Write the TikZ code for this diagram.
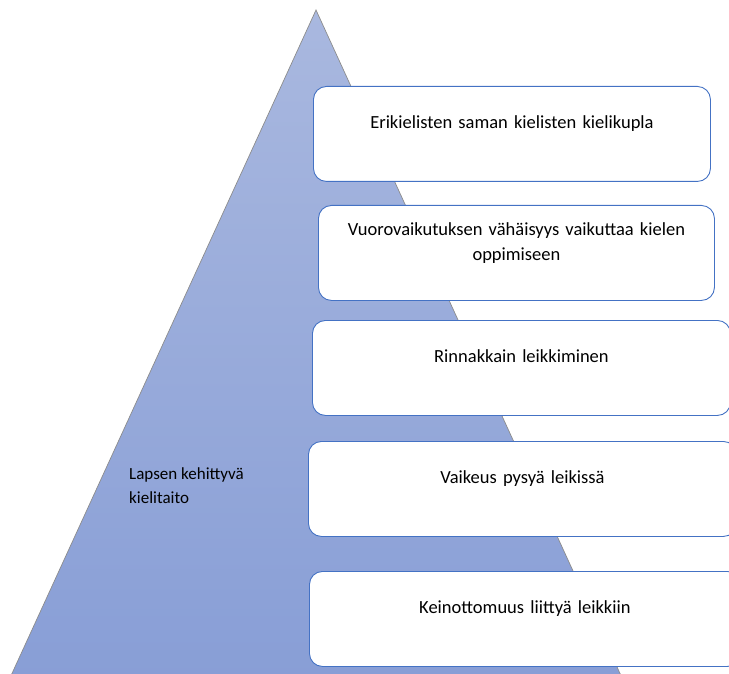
\documentclass[tikz,border=0pt]{standalone}
\usepackage{fontspec}
\setmainfont{Carlito}
\usetikzlibrary{positioning}

\definecolor{pyrtop}{HTML}{A9B8DF}
\definecolor{pyrbot}{HTML}{889ED6}
\definecolor{cardblue}{HTML}{4472C4}

\begin{document}
\begin{tikzpicture}[
  x=1pt, y=-1pt,
  font=\fontsize{18.5}{25}\selectfont,
  card/.style ={draw=cardblue, fill=white, line width=0.9pt,
                rounded corners=13pt, align=center, inner sep=0pt,
                anchor=north west, text height=42pt, text depth=53pt},
  card2/.style={card, text height=30pt, text depth=65pt},
  lbl/.style  ={align=left, inner sep=0pt, anchor=base west,
                font=\fontsize{17}{24}\selectfont},
]
\useasboundingbox (0,0) rectangle (729,674);
\clip (0,0) rectangle (729,674);

\shade[top color=pyrtop, bottom color=pyrbot]
  (316,10) -- (9,680) -- (623,680) -- cycle;
\draw[black!45, line width=0.7pt] (9,680) -- (316,10) -- (623,680);

\node[lbl] (kieli) at (129,503) {Lapsen kehittyvä\\kielitaito};

\node[card,  text width=397pt] (k1) at (313,86)  {Erikielisten saman kielisten kielikupla};
\node[card2, text width=396pt] (k2) at (318,205) {Vuorovaikutuksen vähäisyys vaikuttaa kielen\\oppimiseen};
\node[card,  text width=418pt] (k3) at (312,320) {Rinnakkain leikkiminen};
\node[card,  text width=428pt] (k4) at (308,441) {Vaikeus pysyä leikissä};
\node[card,  text width=431pt] (k5) at (309,571) {Keinottomuus liittyä leikkiin};
\end{tikzpicture}
\end{document}
